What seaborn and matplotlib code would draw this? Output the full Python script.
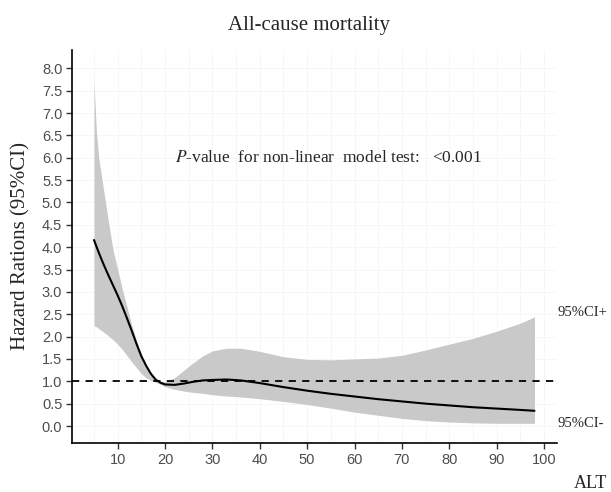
import numpy as np
import pandas as pd
import seaborn as sns
import matplotlib.pyplot as plt

# ALT grid and restricted cubic spline hazard ratios
alt = [5, 5.5, 6, 7, 8, 9, 10, 11, 12, 13, 14, 15, 16, 17, 18, 19, 20,
       22, 24, 26, 28, 30, 33, 36, 40, 45, 50, 55, 60, 65, 70, 75, 80,
       85, 90, 95, 98]
hr = [4.16, 4.02, 3.88, 3.62, 3.38, 3.15, 2.92, 2.67, 2.40, 2.12, 1.83,
      1.56, 1.35, 1.17, 1.04, 0.97, 0.93, 0.92, 0.95, 0.99, 1.02, 1.03,
      1.04, 1.02, 0.96, 0.87, 0.79, 0.72, 0.66, 0.60, 0.55, 0.50, 0.46,
      0.42, 0.39, 0.36, 0.34]
ci_upper = [7.72, 6.60, 6.00, 5.30, 4.60, 3.95, 3.50, 3.05, 2.65, 2.25,
            1.90, 1.60, 1.35, 1.18, 1.05, 0.99, 0.99, 1.08, 1.25, 1.42,
            1.57, 1.68, 1.74, 1.74, 1.67, 1.55, 1.49, 1.48, 1.50, 1.52,
            1.58, 1.70, 1.83, 1.96, 2.12, 2.30, 2.44]
ci_lower = [2.24, 2.22, 2.18, 2.10, 2.02, 1.93, 1.83, 1.71, 1.57, 1.43,
            1.30, 1.17, 1.08, 1.02, 0.98, 0.93, 0.88, 0.82, 0.78, 0.75,
            0.73, 0.70, 0.67, 0.65, 0.61, 0.55, 0.48, 0.40, 0.31, 0.24,
            0.17, 0.12, 0.09, 0.07, 0.06, 0.06, 0.06]

x_ticks = [10, 20, 30, 40, 50, 60, 70, 80, 90, 100]
y_ticks = [0.0, 0.5, 1.0, 1.5, 2.0, 2.5, 3.0, 3.5, 4.0, 4.5, 5.0, 5.5,
           6.0, 6.5, 7.0, 7.5, 8.0]

df = pd.DataFrame({'ALT': alt, 'HR': hr, 'lower': ci_lower, 'upper': ci_upper})

sns.set_style('white')
plt.rcParams['font.family'] = ['Liberation Serif', 'DejaVu Serif']
plt.rcParams['mathtext.fontset'] = 'stix'

fig = plt.figure(figsize=(6.11, 4.92), dpi=100)
ax = fig.add_axes([0.1178, 0.0996, 0.7938, 0.7988])

# faint grid
ax.set_xticks([5, 15, 25, 35, 45, 55, 65, 75, 85, 95], minor=True)
ax.grid(True, which='both', color='#f5f5f5', linewidth=0.6)
ax.set_axisbelow(True)

# confidence band
ax.fill_between(df['ALT'], df['lower'], df['upper'], color='#c9c9c9',
                linewidth=0, zorder=2)

# reference line HR = 1
ax.axhline(1.0, color='black', linestyle=(0, (4, 3.5)), linewidth=1.3, zorder=3)

# fitted curve
sns.lineplot(data=df, x='ALT', y='HR', color='black', linewidth=1.5, ax=ax,
             zorder=4)

ax.set_xlim(0.35, 102.75)
ax.set_ylim(-0.38, 8.41)
ax.set_xticks(x_ticks)
ax.set_yticks(y_ticks)
ax.set_xticklabels([str(t) for t in x_ticks], family='Liberation Sans',
                   fontsize=10.5, color='#4d4d4d')
ax.set_yticklabels([f'{t:.1f}' for t in y_ticks], family='Liberation Sans',
                   fontsize=10.5, color='#4d4d4d')
ax.tick_params(axis='both', which='major', length=4, width=1.0,
               color='#333333', direction='out', pad=3, bottom=True, left=True)
ax.tick_params(axis='both', which='minor', length=0)

for s in ['top', 'right']:
    ax.spines[s].set_visible(False)
for s in ['left', 'bottom']:
    ax.spines[s].set_color('black')
    ax.spines[s].set_linewidth(1.2)

ax.set_xlabel('')
ax.set_ylabel('Hazard Rations (95%CI)', fontsize=15, labelpad=8)

ax.text(22, 6.0, r'$\it{P}$-value  for non-linear  model test:   <0.001',
        fontsize=12.5, va='center', ha='left')

fig.text(0.505, 0.948, 'All-cause mortality', fontsize=15, ha='center',
         va='center')
fig.text(0.912, 0.364, '95%CI+', fontsize=10.5, ha='left', va='center')
fig.text(0.912, 0.140, '95%CI-', fontsize=10.5, ha='left', va='center')
fig.text(0.993, 0.018, 'ALT', fontsize=13, ha='right', va='center')

fig.savefig('out.png', dpi=100)
